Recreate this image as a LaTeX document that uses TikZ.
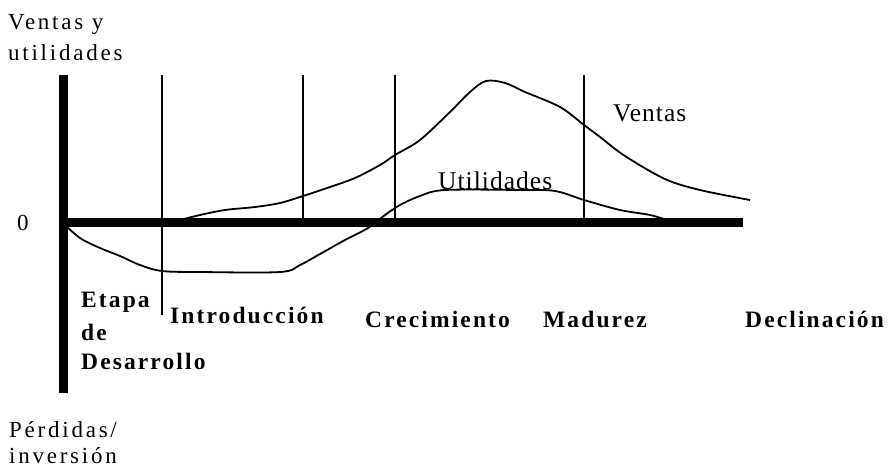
\documentclass[tikz,border=0pt]{standalone}
\usepackage{fontspec}
\setmainfont{Liberation Serif}
\usetikzlibrary{positioning}

\begin{document}
\begin{tikzpicture}[x=1pt, y=-1pt,
        lbl/.style={font=\fontsize{23}{27}\selectfont\addfontfeature{LetterSpace=12}, inner sep=0pt, anchor=base west},
        big/.style={font=\fontsize{25.5}{29}\selectfont\addfontfeature{LetterSpace=4}, inner sep=0pt, anchor=base west},
        stage/.style={font=\fontsize{23.5}{27}\selectfont\bfseries\addfontfeature{LetterSpace=9}, inner sep=0pt, anchor=base west},
        axis/.style={line width=9pt},
        phase/.style={line width=1.8pt},
        curve/.style={line width=1.8pt, line join=round}
    ]
    \useasboundingbox (0,0) rectangle (888,469);

    % axes
    \coordinate (ytop) at (63,75);
    \coordinate (ybot) at (63,393);
    \coordinate (xleft) at (59,222);
    \coordinate (xright) at (743,222);
    \draw[axis] (ytop) -- (ybot);
    \draw[axis] (xleft) -- (xright);

    % stage boundaries
    \coordinate (p1t) at (162,75);  \coordinate (p1b) at (162,315);
    \coordinate (p2t) at (303,75);  \coordinate (p2b) at (303,218);
    \coordinate (p3t) at (395,75);  \coordinate (p3b) at (395,218);
    \coordinate (p4t) at (584,75);  \coordinate (p4b) at (584,218);
    \draw[phase] (p1t) -- (p1b);
    \draw[phase] (p2t) -- (p2b);
    \draw[phase] (p3t) -- (p3b);
    \draw[phase] (p4t) -- (p4b);

    % sales
    \draw[curve] plot[smooth, tension=0.55] coordinates {(180,220) (200,215) (225,210) (255,207) (280,203)
        (303,196) (330,187) (355,178) (380,165) (395,155) (420,140) (450,112) (470,92) (486,81)
        (505,83) (525,92) (560,107) (584,125) (600,137) (625,156) (665,179) (700,190) (750,200)};
    % profits
    \draw[curve] plot[smooth, tension=0.55] coordinates {(64,224) (80,238) (100,248) (120,256) (140,265)
        (162,271) (200,272) (280,272) (300,265) (320,254) (345,240) (368,228) (385,215) (400,205)
        (420,196) (445,190) (520,190) (555,191) (584,200) (620,210) (650,215) (670,221)};

    % axis labels
    \node[lbl] (vy1) at (8,29) {Ventas y};
    \node[lbl] (vy2) at (8,60) {utilidades};
    \node[lbl] (zero) at (17,230) {0};
    \node[lbl] (pi1) at (9,437) {Pérdidas/};
    \node[lbl] (pi2) at (9,463) {inversión};

    % curve labels
    \node[big] (ventas) at (613,121) {Ventas};
    \node[big] (util) at (438,189) {Utilidades};

    % stages
    \node[stage] (etapa) at (81,307) {Etapa};
    \node[stage] (de) at (81,340) {de};
    \node[stage] (desa) at (81,369) {Desarrollo};
    \node[stage] (intro) at (170,323) {Introducción};
    \node[stage] (crec) at (365,327) {Crecimiento};
    \node[stage] (madu) at (543,327) {Madurez};
    \node[stage] (decl) at (745,327) {Declinación};
\end{tikzpicture}
\end{document}
